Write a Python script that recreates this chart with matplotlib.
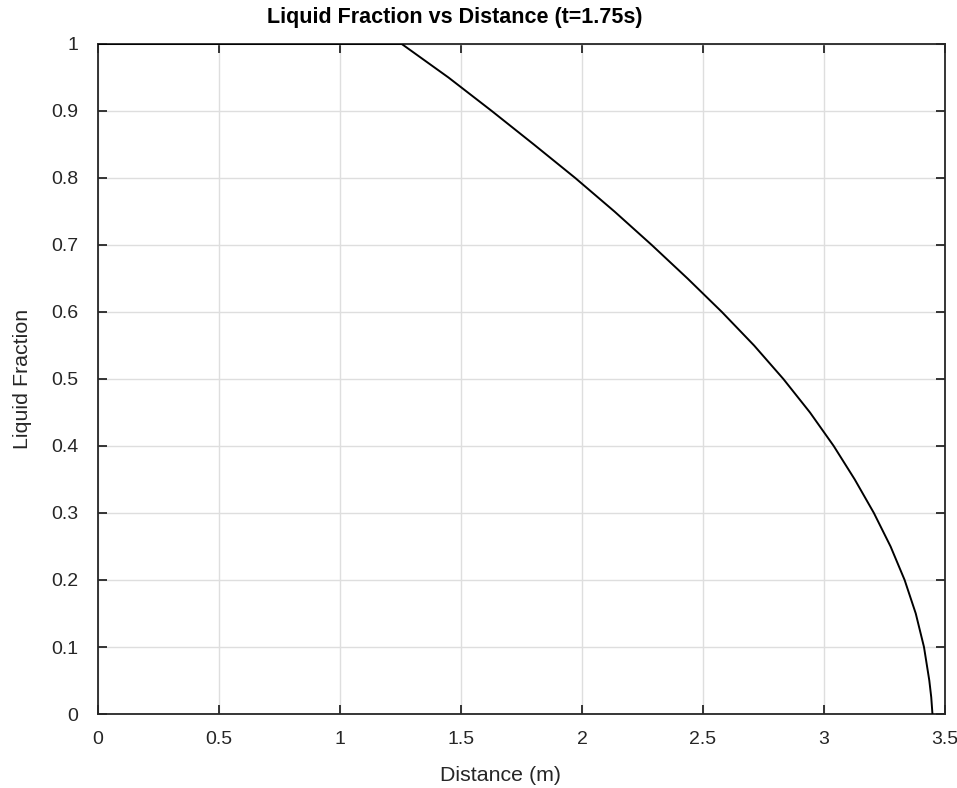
import numpy as np
import matplotlib
matplotlib.use('Agg')
import matplotlib.pyplot as plt

# values
distance = [0.0, 1.255, 1.448, 1.627, 1.801, 1.972, 2.134, 2.288, 2.436, 2.578,
            2.711, 2.832, 2.942, 3.040, 3.127, 3.206, 3.275, 3.333, 3.379,
            3.413, 3.435, 3.443, 3.448]
liquid_fraction = [1.0, 1.0, 0.95, 0.9, 0.85, 0.8, 0.75, 0.7, 0.65, 0.6,
                   0.55, 0.5, 0.45, 0.4, 0.35, 0.3, 0.25, 0.2, 0.15,
                   0.1, 0.05, 0.025, 0.0]

xticks = [0, 0.5, 1, 1.5, 2, 2.5, 3, 3.5]
xticklabels = ['0', '0.5', '1', '1.5', '2', '2.5', '3', '3.5']
yticks = [0, 0.1, 0.2, 0.3, 0.4, 0.5, 0.6, 0.7, 0.8, 0.9, 1]
yticklabels = ['0', '0.1', '0.2', '0.3', '0.4', '0.5', '0.6', '0.7', '0.8', '0.9', '1']

plt.rcParams['font.family'] = ['Liberation Sans', 'DejaVu Sans']

fig = plt.figure(figsize=(9.57, 7.88), dpi=100)
ax = fig.add_axes([0.1024, 0.0939, 0.8851, 0.8503])

ax.plot(distance, liquid_fraction, color='black', lw=1.4, zorder=3)

ax.set_xlim(0, 3.5)
ax.set_ylim(0, 1)
ax.set_xticks(xticks)
ax.set_xticklabels(xticklabels)
ax.set_yticks(yticks)
ax.set_yticklabels(yticklabels)

ax.grid(True, color='#dedede', lw=1.0)
ax.set_axisbelow(True)
for s in ax.spines.values():
    s.set_color('#262626')
    s.set_linewidth(1.3)

ax.tick_params(direction='in', length=6.5, width=1.3, color='#262626',
               top=True, right=True, labelsize=14, labelcolor='#262626')
ax.tick_params(axis='x', pad=12)
ax.tick_params(axis='y', pad=14)

ax.set_title('Liquid Fraction vs Distance (t=1.75s)', fontsize=15.5,
             fontweight='bold', pad=15, x=0.4215)
ax.set_xlabel('Distance (m)', fontsize=15.4, color='#262626')
ax.xaxis.set_label_coords(0.4746, -0.078)
ax.set_ylabel('Liquid Fraction', fontsize=15.4, color='#262626', labelpad=14)

plt.savefig('out.png', dpi=100)
